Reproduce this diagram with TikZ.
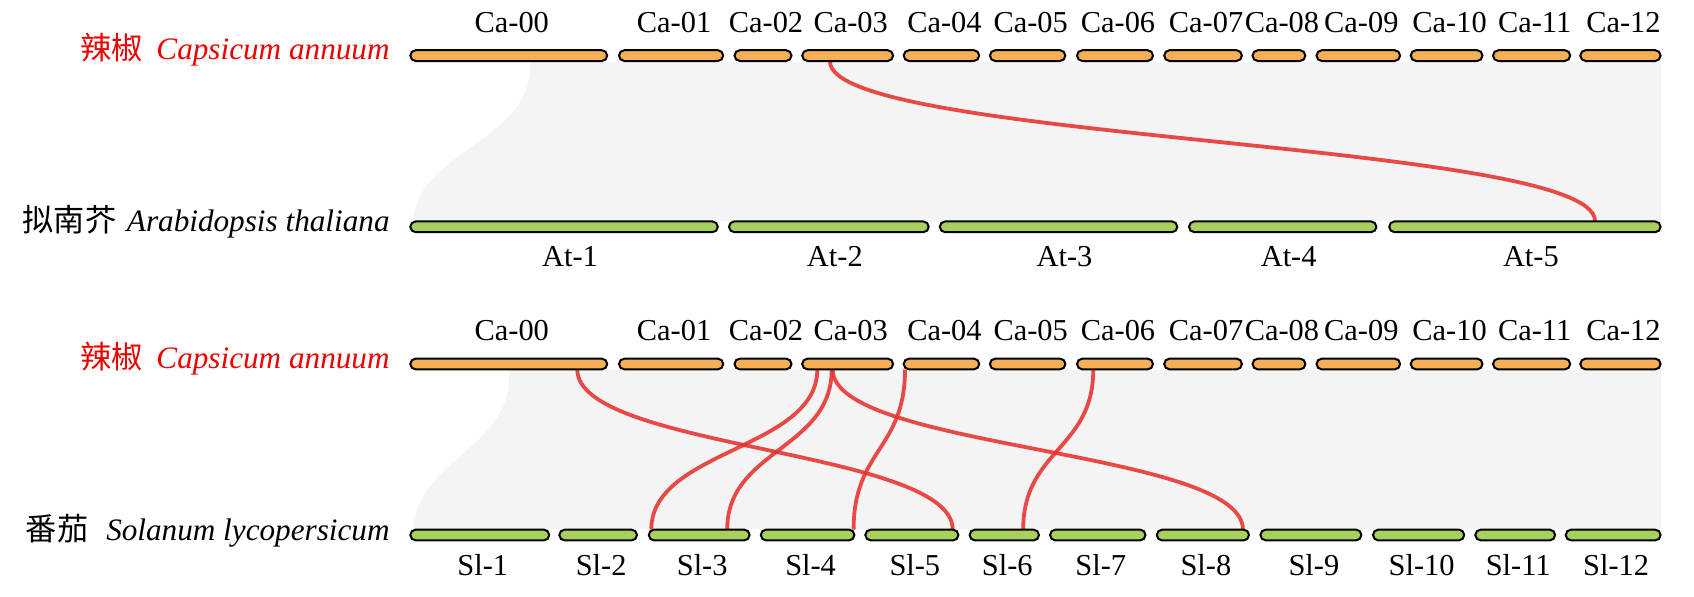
\documentclass[tikz,border=0pt]{standalone}
\usepackage{fontspec}
\setmainfont{Liberation Serif}
\newfontfamily\cjk{Noto Sans CJK SC}
\definecolor{caorange}{RGB}{245,175,87}
\definecolor{slgreen}{RGB}{168,208,95}
\definecolor{ribbon}{RGB}{244,244,244}
\definecolor{linkred}{RGB}{232,50,45}
\definecolor{spred}{RGB}{236,0,0}
\begin{document}
\begin{tikzpicture}[x=0.5pt,y=-0.5pt,
  barbase/.style={rectangle, draw=black, line width=1pt, rounded corners=2.7pt,
    minimum height=5.4pt, inner sep=0pt},
  cabar/.style={barbase, fill=caorange},
  grbar/.style={barbase, fill=slgreen},
  chrlab/.style={anchor=base, inner sep=0pt, font=\fontsize{15.2}{18}\selectfont},
  splab/.style={anchor=base east, inner sep=0pt, font=\fontsize{15.6}{18}\selectfont},
  link/.style={draw=linkred, draw opacity=0.88, line width=1.9pt},
  bgfill/.style={fill=ribbon, draw=none}]
\useasboundingbox (0,0) rectangle (1694,596);

% background ribbons
\fill[ribbon] (530,62) -- (1661,62) -- (1661,221) -- (413,221)
  .. controls (418,150) and (535,140) .. (530,62) -- cycle;
\fill[ribbon] (509,370) -- (1661,370) -- (1661,529) -- (413,529)
  .. controls (418,458) and (514,448) .. (509,370) -- cycle;

% link end points
\coordinate (tmid) at (0,141.3);
\coordinate (bmid) at (0,449.5);
\coordinate (t1a) at (830,61.5);   \coordinate (t1b) at (1595,221);
\coordinate (b1a) at (577.3,369.5);  \coordinate (b1b) at (952.7,529.5);
\coordinate (b2a) at (817.3,369.5);  \coordinate (b2b) at (651.3,529.5);
\coordinate (b3a) at (831.7,369.5);  \coordinate (b3b) at (727.2,529.5);
\coordinate (b4a) at (832.7,369.5);  \coordinate (b4b) at (1242.9,529.5);
\coordinate (b5a) at (905,369.5);    \coordinate (b5b) at (853.6,529.5);
\coordinate (b6a) at (1093.3,369.5); \coordinate (b6b) at (1023.2,529.5);

\foreach \p in {t1} {
  \draw[link] (\p a) .. controls (\p a |- tmid) and (\p b |- tmid) .. (\p b);
}
\foreach \p in {b1,b2,b3,b4,b5,b6} {
  \draw[link] (\p a) .. controls (\p a |- bmid) and (\p b |- bmid) .. (\p b);
}

% pepper chromosomes, both panels
\foreach \n/\a/\b in {00/409.3/608.2, 01/618/724.2, 02/733.5/792.5, 03/801.2/894.1,
  04/902.7/980.2, 05/988.9/1066.4, 06/1076/1154, 07/1163.2/1242.9, 08/1251.5/1306.4,
  09/1315.5/1401.1, 10/1409.7/1483.5, 11/1492/1571.2, 12/1579.3/1661.6} {
  \node[cabar, minimum width={(\b-\a)*0.5pt-1pt}] (cat\n) at ({(\a+\b)/2},55.6) {};
  \node[chrlab] (lcat\n) at ({(\a+\b)/2+3},32.3) {Ca-\n};
  \node[cabar, minimum width={(\b-\a)*0.5pt-1pt}] (cab\n) at ({(\a+\b)/2},364) {};
  \node[chrlab] (lcab\n) at ({(\a+\b)/2+3},340.5) {Ca-\n};
}

% Arabidopsis chromosomes
\foreach \n/\a/\b in {1/409.3/718.8, 2/728/929.7, 3/938.8/1178.3, 4/1188/1377.4, 5/1388.2/1661.6} {
  \node[grbar, minimum width={(\b-\a)*0.5pt-1pt}] (at\n) at ({(\a+\b)/2},226.8) {};
  \node[chrlab] (lat\n) at ({(\a+\b)/2+6},266.6) {At-\n};
}

% tomato chromosomes
\foreach \n/\a/\b in {1/409.3/550.2, 2/558.3/638, 3/647.8/750.6, 4/759.8/855.4,
  5/864.3/959.4, 6/968.6/1040, 7/1049/1146.5, 8/1155.8/1250, 9/1259.4/1362.4,
  10/1372/1465.2, 11/1474.3/1556.1, 12/1564.7/1661.6} {
  \node[grbar, minimum width={(\b-\a)*0.5pt-1pt}] (sl\n) at ({(\a+\b)/2},535) {};
  \node[chrlab] (lsl\n) at ({(\a+\b)/2+3},575) {Sl-\n};
}

% species labels
\node[splab, text=spred] (sp1) at (390,59.5) {{\cjk 辣椒}\hspace{7pt}\textit{Capsicum annuum}};
\node[splab] (sp2) at (390,231) {{\cjk 拟南芥}\hspace{5.3pt}\textit{Arabidopsis thaliana}};
\node[splab, text=spred] (sp3) at (390,368) {{\cjk 辣椒}\hspace{7pt}\textit{Capsicum annuum}};
\node[splab] (sp4) at (390,540) {{\cjk 番茄}\hspace{9pt}\textit{Solanum lycopersicum}};
\end{tikzpicture}
\end{document}
